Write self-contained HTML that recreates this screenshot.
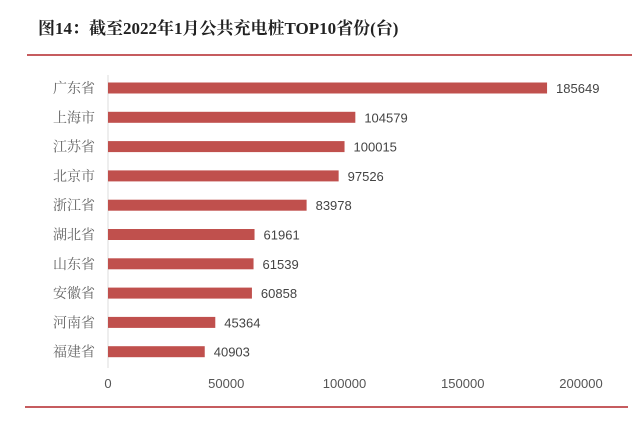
<!DOCTYPE html>
<html><head><meta charset="utf-8"><style>
body{margin:0;background:#fff;width:640px;height:438px;overflow:hidden;font-family:"Liberation Serif","Noto Serif CJK SC",serif}
</style></head><body>
<svg width="640" height="438">
<text x="38" y="34" font-size="17" font-weight="bold" fill="#222" font-family="Liberation Serif, Noto Serif CJK SC, serif">图14：截至2022年1月公共充电桩TOP10省份(台)</text>
<line x1="27" y1="55" x2="632" y2="55" stroke="#b3262a" stroke-width="1.5"/>
<line x1="25" y1="407" x2="628" y2="407" stroke="#b3262a" stroke-width="1.5"/>
<line x1="108" y1="75" x2="108" y2="368" stroke="#ddd"/>
<g id="g"></g>
</svg>
<script>
const categories=["广东省","上海市","江苏省","北京市","浙江省","湖北省","山东省","安徽省","河南省","福建省"];
const values=[185649,104579,100015,97526,83978,61961,61539,60858,45364,40903];
const ticks=[0,50000,100000,150000,200000];
const NS="http://www.w3.org/2000/svg",g=document.getElementById('g');
const x=v=>108+v*(581-108)/200000;
const y=i=>88+i*29.3;
function mk(t,a){const e=document.createElementNS(NS,t);for(const k in a)e.setAttribute(k,a[k]);g.appendChild(e);return e;}
categories.forEach((c,i)=>{
 const b=mk('rect',{x:x(0),y:y(i)-5.5,width:x(values[i])-x(0),height:11,fill:'#c0504d'});
 
 
 const l=mk('text',{x:95,y:y(i)+5,'text-anchor':'end','font-size':14,fill:'#666','font-family':'Liberation Serif, Noto Serif CJK SC, serif'});
 l.textContent=c;
 
 
 const v=mk('text',{x:x(values[i])+9,y:y(i)+5,'font-size':13,fill:'#444','font-family':'Liberation Sans, sans-serif'});
 v.textContent=values[i];
 
 
});
ticks.forEach(t=>{
 const e=mk('text',{x:x(t),y:388,'text-anchor':'middle','font-size':13,fill:'#555','font-family':'Liberation Sans, sans-serif'});
 e.textContent=t;
 
 
});
</script>
</body></html>
